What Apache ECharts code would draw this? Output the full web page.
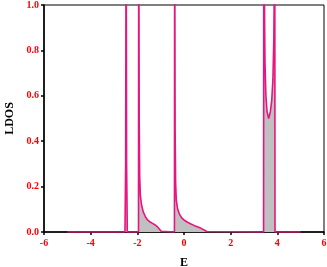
<!DOCTYPE html>
<html>
<head>
<meta charset="utf-8">
<script src="https://cdn.jsdelivr.net/npm/echarts@6/dist/echarts.min.js"></script>
<style>
  html, body { margin: 0; padding: 0; background: #fff; }
  #main { width: 327px; height: 267px; }
</style>
</head>
<body>
<div id="main"></div>
<script>
// energy (E) and local density of states
const energy = [
  -5.0, -2.53, -2.50, -2.48, -2.46, -2.43,
  -1.95, -1.94, -1.92, -1.90, -1.87, -1.82, -1.75, -1.65, -1.55, -1.45, -1.35, -1.25, -1.15, -1.05, -0.98, -0.95,
  -0.41, -0.40, -0.38, -0.36, -0.33, -0.27, -0.20, -0.10, 0.0, 0.15, 0.30, 0.45, 0.60, 0.75, 0.88, 0.97, 1.03,
  3.41, 3.42, 3.44, 3.47, 3.51, 3.56, 3.63, 3.70, 3.76, 3.81, 3.85, 3.88, 3.89, 3.90,
  5.0
]
const ldos = [
  0, 0, 0.3, 1.5, 0.3, 0,
  0, 1.5, 0.5, 0.25, 0.16, 0.12, 0.09, 0.066, 0.052, 0.044, 0.038, 0.032, 0.024, 0.012, 0.003, 0,
  0, 1.5, 0.45, 0.22, 0.14, 0.1, 0.08, 0.062, 0.053, 0.043, 0.035, 0.028, 0.022, 0.015, 0.008, 0.002, 0,
  0, 1.5, 1.1, 0.75, 0.6, 0.53, 0.5, 0.53, 0.58, 0.67, 0.85, 1.2, 1.5, 0,
  0
]
const xTicks = [-6, 6, 2]
const yTicks = [0, 1, 0.2]

let points = energy.map(function (e, i) { return [e, ldos[i]] })

let labelFont = {
  color: '#ff0000',
  fontFamily: 'Liberation Serif',
  fontWeight: 'bold',
  fontSize: 10
}

let myChart = echarts.init(document.getElementById('main'), null, { renderer: 'canvas' })
myChart.setOption({
  animation: false,
  grid: {
    left: 44, right: 3, top: 5, bottom: 35,
    outerBoundsMode: 'none',
    containLabel: false,
    show: true, borderColor: '#000', borderWidth: 1
  },
  xAxis: {
    type: 'value',
    min: xTicks[0], max: xTicks[1], interval: xTicks[2],
    name: 'E',
    nameLocation: 'middle',
    nameGap: 25,
    nameTextStyle: { color: '#000', fontFamily: 'Liberation Serif', fontWeight: 'bold', fontSize: 12 },
    axisLine: { onZero: false, lineStyle: { color: '#000', width: 1.5 } },
    axisTick: { length: 3, lineStyle: { color: '#000', width: 1.5 } },
    axisLabel: Object.assign({ margin: 6 }, labelFont),
    splitLine: { show: false }
  },
  yAxis: {
    type: 'value',
    min: yTicks[0], max: yTicks[1], interval: yTicks[2],
    name: 'LDOS',
    nameLocation: 'middle',
    nameGap: 23,
    nameRotate: 90,
    nameTextStyle: { color: '#000', fontFamily: 'Liberation Serif', fontWeight: 'bold', fontSize: 12 },
    axisLine: { show: true, onZero: false, lineStyle: { color: '#000', width: 1.5 } },
    axisTick: { show: true, length: 3, lineStyle: { color: '#000', width: 1.5 } },
    axisLabel: Object.assign({
      margin: 5,
      formatter: function (v) { return v.toFixed(1) }
    }, labelFont),
    splitLine: { show: false }
  },
  series: [{
    type: 'line',
    data: points,
    showSymbol: false,
    symbol: 'none',
    clip: true,
    lineStyle: { color: '#e6157f', width: 1.6 },
    areaStyle: { color: '#c0c0c0', opacity: 1 }
  }]
})
</script>
</body>
</html>
